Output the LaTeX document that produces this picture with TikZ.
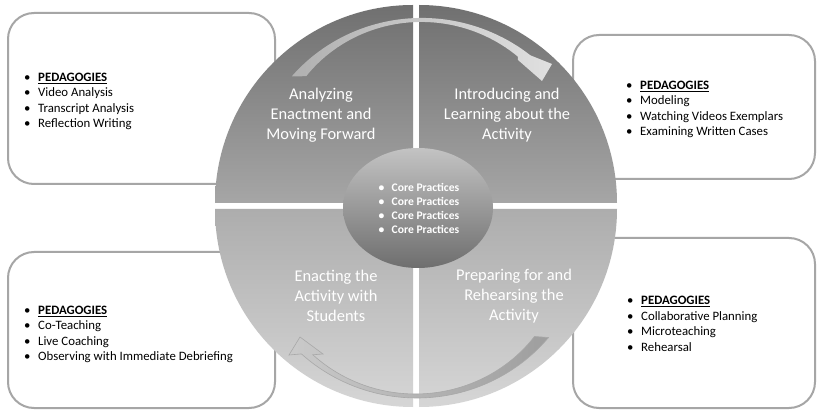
\documentclass[tikz,border=0pt]{standalone}
\usepackage{fontspec}
\setmainfont{Carlito}
\usetikzlibrary{shapes.geometric}
\definecolor{boxline}{HTML}{A6A6A6}
\definecolor{qtA}{HTML}{707070}
\definecolor{qtB}{HTML}{A6A6A6}
\definecolor{qbA}{HTML}{ADADAD}
\definecolor{qbB}{HTML}{D6D6D6}
\definecolor{elA}{HTML}{C3C3C3}
\definecolor{elB}{HTML}{6E6E6E}
\definecolor{arA}{HTML}{B0B0B0}
\definecolor{arB}{HTML}{E0E0E0}
\definecolor{arC}{HTML}{CACACA}
\definecolor{arD}{HTML}{9E9E9E}
\definecolor{arLine}{HTML}{A8A8A8}
\newcommand\pbul{\makebox[14pt][l]{\textbullet}}
\newcommand\cbul{\makebox[13pt][l]{\textbullet}}
\begin{document}
\begin{tikzpicture}[x=1pt,y=1pt,
  declare function={
    ua(\t)=(\t-90)/45;
    roa(\t)=188-4*ua(\t)*ua(\t)-4*ua(\t);
    ria(\t)=184-4.07*ua(\t)-11.93*ua(\t)*ua(\t);
    ub(\t)=(\t+90)/45;
    rob(\t)=192-6*ub(\t)*ub(\t);
    rib(\t)=188-1.57*ub(\t)-12.59*ub(\t)*ub(\t);
  },
  pedbox/.style={draw=boxline, line width=2pt, rounded corners=26pt, fill=white, inner sep=0pt},
  qtop/.style={top color=qtA, bottom color=qtB},
  qbot/.style={top color=qbA, bottom color=qbB},
  quadtext/.style={text=white, align=center, inner sep=0pt, font=\fontsize{16.4}{20}\selectfont},
  listtext/.style={anchor=west, inner sep=0pt, align=left, text=black, font=\fontsize{12.8}{15.5}\selectfont},
  coretext/.style={anchor=west, inner sep=0pt, align=left, text=white, font=\fontsize{11.6}{14}\selectfont\bfseries}]

\useasboundingbox (0,0) rectangle (817,410);
\fill[white] (0,0) rectangle (817,410);

% boxes
\node[pedbox, minimum width=267pt, minimum height=171pt] (boxTL) at (141.5,311.5) {};
\node[pedbox, minimum width=242pt, minimum height=144pt] (boxTR) at (694,303) {};
\node[pedbox, minimum width=267pt, minimum height=156pt] (boxBL) at (141.5,80) {};
\node[pedbox, minimum width=242pt, minimum height=170pt] (boxBR) at (694,87) {};

% quadrants
\path[qtop] (413,207) -- (215,207) arc[start angle=180, end angle=90, radius=198pt] -- cycle;
\path[qtop] (419,207) -- (419,405) arc[start angle=90, end angle=0, radius=198pt] -- cycle;
\path[qbot] (413,201) -- (215,201) arc[start angle=180, end angle=270, radius=198pt] -- cycle;
\path[qbot] (419,201) -- (617,201) arc[start angle=0, end angle=-90, radius=198pt] -- cycle;

% top curved arrow
\path[left color=arA, right color=arB]
  plot[domain=134:53, samples=50] ({417+roa(\x)*cos(\x)},{204+roa(\x)*sin(\x)})
  -- (552,346) -- (542,329) -- (518,350)
  -- plot[domain=56:130.5, samples=50] ({417+ria(\x)*cos(\x)},{204+ria(\x)*sin(\x)})
  -- cycle;

% bottom curved arrow
\path[draw=arLine, line width=0.6pt, left color=arC, right color=arD]
  plot[domain=-45:-128, samples=50] ({417+rob(\x)*cos(\x)},{204+rob(\x)*sin(\x)})
  -- (289,55) -- (300,73) -- (323,56)
  -- plot[domain=-125:-48, samples=50] ({417+rib(\x)*cos(\x)},{204+rib(\x)*sin(\x)})
  -- cycle;

% centre ellipse
\node[ellipse, minimum width=150pt, minimum height=120pt, inner sep=0pt, top color=elA, bottom color=elB] (core) at (418,202) {};
\node[coretext] (coreList) at (378.5,202) {\cbul Core Practices\\\cbul Core Practices\\\cbul Core Practices\\\cbul Core Practices};

% quadrant labels
\node[quadtext] (qTL) at (321,295) {Analyzing\\Enactment and\\Moving Forward};
\node[quadtext] (qTR) at (507,295) {Introducing and\\Learning about the\\Activity};
\node[quadtext] (qBL) at (336,114) {Enacting the\\Activity with\\Students};
\node[quadtext] (qBR) at (514,114) {Preparing for and\\Rehearsing the\\Activity};

% lists
\node[listtext] (lTL) at (24,308.5) {\pbul\underline{\textbf{PEDAGOGIES}}\\\pbul Video Analysis\\\pbul Transcript Analysis\\\pbul Reflection Writing};
\node[listtext] (lTR) at (626,300.5) {\pbul\underline{\textbf{PEDAGOGIES}}\\\pbul Modeling\\\pbul Watching Videos Exemplars\\\pbul Examining Written Cases};
\node[listtext] (lBL) at (24,75.5) {\pbul\underline{\textbf{PEDAGOGIES}}\\\pbul Co-Teaching\\\pbul Live Coaching\\\pbul Observing with Immediate Debriefing};
\node[listtext] (lBR) at (627,86) {\pbul\underline{\textbf{PEDAGOGIES}}\\\pbul Collaborative Planning\\\pbul Microteaching\\\pbul Rehearsal};
\end{tikzpicture}
\end{document}
